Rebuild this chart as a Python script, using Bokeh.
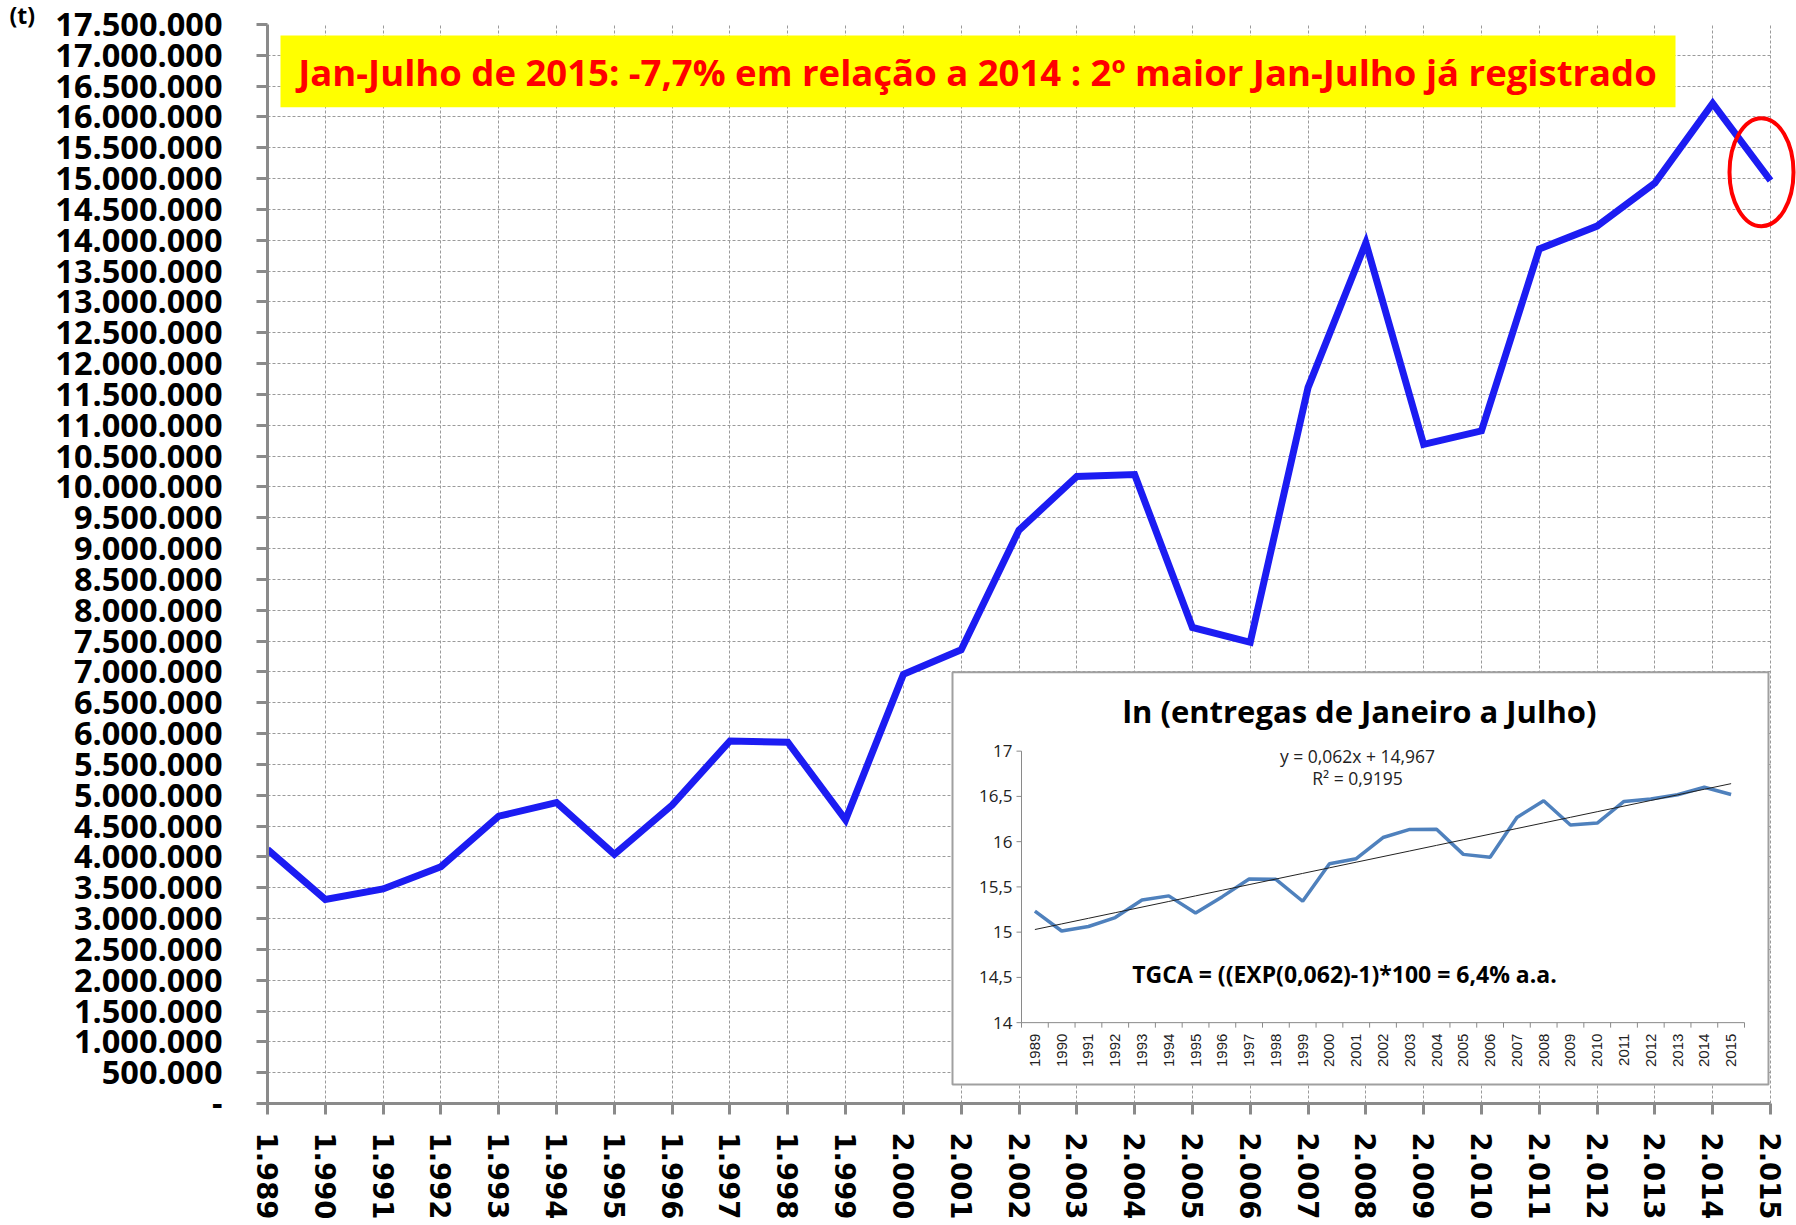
import math
import numpy as np
from bokeh.plotting import figure
from bokeh.models import Range1d, FixedTicker, BoxAnnotation, Label
from bokeh.core.properties import value
from bokeh.embed import file_html
from bokeh.resources import INLINE

# ---------------- data ----------------
years = list(range(1989, 2016))
deliveries_t = [4120000, 3310000, 3480000, 3840000, 4660000, 4880000, 4040000,
                4840000, 5880000, 5860000, 4600000, 6960000, 7360000, 9300000,
                10170000, 10200000, 7720000, 7480000, 11610000, 13960000,
                10690000, 10910000, 13860000, 14230000, 14930000, 16220000,
                14970000]
x_tick_labels = ["1.989", "1.990", "1.991", "1.992", "1.993", "1.994", "1.995",
                 "1.996", "1.997", "1.998", "1.999", "2.000", "2.001", "2.002",
                 "2.003", "2.004", "2.005", "2.006", "2.007", "2.008", "2.009",
                 "2.010", "2.011", "2.012", "2.013", "2.014", "2.015"]
y_ticks = [i * 500000 for i in range(36)]
y_tick_labels = ["-", "500.000", "1.000.000", "1.500.000", "2.000.000", "2.500.000",
                 "3.000.000", "3.500.000", "4.000.000", "4.500.000", "5.000.000",
                 "5.500.000", "6.000.000", "6.500.000", "7.000.000", "7.500.000",
                 "8.000.000", "8.500.000", "9.000.000", "9.500.000", "10.000.000",
                 "10.500.000", "11.000.000", "11.500.000", "12.000.000",
                 "12.500.000", "13.000.000", "13.500.000", "14.000.000",
                 "14.500.000", "15.000.000", "15.500.000", "16.000.000",
                 "16.500.000", "17.000.000", "17.500.000"]
inset_y_ticks = [14, 14.5, 15, 15.5, 16, 16.5, 17]
inset_y_labels = ["14", "14,5", "15", "15,5", "16", "16,5", "17"]
trend_slope = 0.062
trend_intercept = 14.967

unit_text = "(t)"
title_text = "Jan-Julho de 2015: -7,7% em relação a 2014 : 2º maior Jan-Julho já registrado"
inset_title = "ln (entregas de Janeiro a Julho)"
eq_text = "y = 0,062x + 14,967"
r2_text = "R² = 0,9195"
tgca_text = "TGCA = ((EXP(0,062)-1)*100 = 6,4% a.a."

# ---------------- layout (page pixels) ----------------
W, H = 1796, 1222
FL, FR, FT, FB = 267, 1770, 24, 1105      # where 1989..2015 / 0..17.5M sit
X0, X1, Y0, Y1 = years[0], years[-1], 0, 17500000
PX_PER_YEAR = (FR - FL) / (X1 - X0)
X1_EXT = X1 + (W - FR) / PX_PER_YEAR      # frame extends to the canvas edge


def mx(px):
    return X0 + (px - FL) / PX_PER_YEAR


def my(py):
    return Y0 + (FB - py) / (FB - FT) * (Y1 - Y0)


# inset plot area in page pixels
IL, IR, IT, IB = 1021, 1744, 752, 1024
IX0, IX1, IY0, IY1 = years[0] - 0.5, years[-1] + 0.5, 14, 17
ipx = (IX1 - IX0) / (IR - IL)
ipy = (IY1 - IY0) / (IB - IT)
inset_xr = Range1d(IX0 - (IL - FL) * ipx, IX1 + (W - IR) * ipx)
inset_yr = Range1d(IY0 - (FB - IB) * ipy, IY1 + (IT - FT) * ipy)


def ix(px):
    return IX0 + (px - IL) * ipx


def iy(py):
    return IY0 + (IB - py) * ipy


p = figure(width=W, height=H, output_backend="svg", toolbar_location=None,
           x_range=Range1d(X0, X1_EXT), y_range=Range1d(Y0, Y1),
           min_border_left=FL, min_border_right=0,
           min_border_top=FT, min_border_bottom=H - FB)
p.outline_line_color = None
p.background_fill_color = "white"
p.border_fill_color = "white"
p.extra_x_ranges = {"ins": inset_xr}
p.extra_y_ranges = {"ins": inset_yr}

# unit "(t)" at the top-left corner (title panel, shifted left)
p.title.text = unit_text
p.title.align = "left"
p.title.offset = 9 - FL
p.title.standoff = -12
p.title.vertical_align = "bottom"
p.title.text_font = "Open Sans"
p.title.text_font_style = "bold"
p.title.text_font_size = "23px"
p.title.text_color = "black"

# axes
p.xaxis.ticker = FixedTicker(ticks=years)
p.xaxis.bounds = (X0, X1)
p.xaxis.major_label_overrides = {yv: lab for yv, lab in zip(years, x_tick_labels)}
p.xaxis.major_label_orientation = -math.pi / 2
p.xaxis.major_label_text_font = "DejaVu Sans"
p.xaxis.major_label_text_font_style = "bold"
p.xaxis.major_label_text_font_size = "27.5px"
p.xaxis.major_label_text_color = "black"
p.xaxis.major_label_standoff = 18
p.yaxis.ticker = FixedTicker(ticks=y_ticks)
p.yaxis.major_label_overrides = {t: lab for t, lab in zip(y_ticks, y_tick_labels)}
p.yaxis.major_label_text_font = "Open Sans"
p.yaxis.major_label_text_font_style = "bold"
p.yaxis.major_label_text_font_size = "32.5px"
p.yaxis.major_label_text_color = "black"
p.yaxis.major_label_standoff = 34
for ax in (p.xaxis, p.yaxis):
    ax.axis_line_color = "#8a8a8a"
    ax.axis_line_width = 3
    ax.major_tick_line_color = "#8a8a8a"
    ax.major_tick_line_width = 3
    ax.major_tick_out = 11
    ax.major_tick_in = 0
    ax.minor_tick_line_color = None

for g in (p.xgrid, p.ygrid):
    g.grid_line_color = "#9a9a9a"
    g.grid_line_width = 1
    g.grid_line_dash = "3 2"

# blank strip right of 2015 (hides the horizontal grid there)
p.quad(left=[X1 + 1.0 / PX_PER_YEAR], right=[X1_EXT], bottom=[Y0], top=[Y1],
       fill_color="white", line_color=None)

# main series
p.line(years, deliveries_t, line_color="#1c1cf2", line_width=7, line_join="miter")

# highlight ellipse around the last point
p.ellipse(x=[mx(1761)], y=[my(172)], width=[64], height=[108],
          width_units="screen", height_units="screen",
          fill_color=None, line_color="#ff0000", line_width=4)

# title box
p.add_layout(BoxAnnotation(left=mx(280), right=mx(1675), top=my(35), bottom=my(107),
                           fill_color="#ffff00", fill_alpha=1, line_color=None))
p.add_layout(Label(x=mx(977), y=my(72), text=title_text, text_align="center",
                   text_baseline="middle", text_color="#ff0000",
                   text_font="Open Sans", text_font_style="bold",
                   text_font_size="36.5px"))

# ---------------- inset ----------------
R = dict(x_range_name="ins", y_range_name="ins")
p.quad(left=[ix(952)], right=[ix(1768)], top=[iy(673)], bottom=[iy(1086)],
       fill_color="white", line_color="#a0a0a0", line_width=2, **R)

# inset axes
p.segment(x0=[IX0, IX0], y0=[IY0, IY0], x1=[IX0, IX1], y1=[IY1, IY0],
          line_color="#8a8a8a", line_width=1, **R)
p.segment(x0=[ix(IL - 5)] * len(inset_y_ticks), y0=inset_y_ticks,
          x1=[IX0] * len(inset_y_ticks), y1=inset_y_ticks,
          line_color="#8a8a8a", line_width=1, **R)
xb = [yv - 0.5 for yv in years] + [years[-1] + 0.5]
p.segment(x0=xb, y0=[IY0] * len(xb), x1=xb, y1=[iy(IB + 5)] * len(xb),
          line_color="#8a8a8a", line_width=1, **R)
p.text(x=[ix(IL - 9)] * len(inset_y_ticks), y=inset_y_ticks, text=inset_y_labels,
       text_align="right", text_baseline="middle", text_color="#222222",
       text_font=value("Open Sans"), text_font_size="17px", **R)
p.text(x=years, y=[iy(IB + 11)] * len(years), text=[str(yv) for yv in years],
       angle=math.pi / 2, text_align="right", text_baseline="middle",
       text_color="#222222", text_font=value("Liberation Sans"),
       text_font_size="15px", **R)

# inset series: natural log of deliveries + linear trend
ln_vals = np.log(np.array(deliveries_t, dtype=float))
p.line(years, ln_vals, line_color="#4f81bd", line_width=3.5, **R)
idx = np.arange(1, len(years) + 1)
trend = trend_intercept + trend_slope * idx
p.line(years, trend, line_color="#222222", line_width=1, **R)

p.text(x=[ix(1359)], y=[iy(712)], text=[inset_title], text_align="center",
       text_baseline="middle", text_color="black", text_font=value("Open Sans"),
       text_font_style="bold", text_font_size="31px", **R)
p.text(x=[ix(1357), ix(1357)], y=[iy(757), iy(779)], text=[eq_text, r2_text],
       text_align="center", text_baseline="middle", text_color="#222222",
       text_font=value("Open Sans"), text_font_size="17.5px", **R)
p.text(x=[ix(1344)], y=[iy(975)], text=[tgca_text], text_align="center",
       text_baseline="middle", text_color="black", text_font=value("Open Sans"),
       text_font_style="bold", text_font_size="23px", **R)

open("out.html", "w").write(file_html(p, INLINE))
